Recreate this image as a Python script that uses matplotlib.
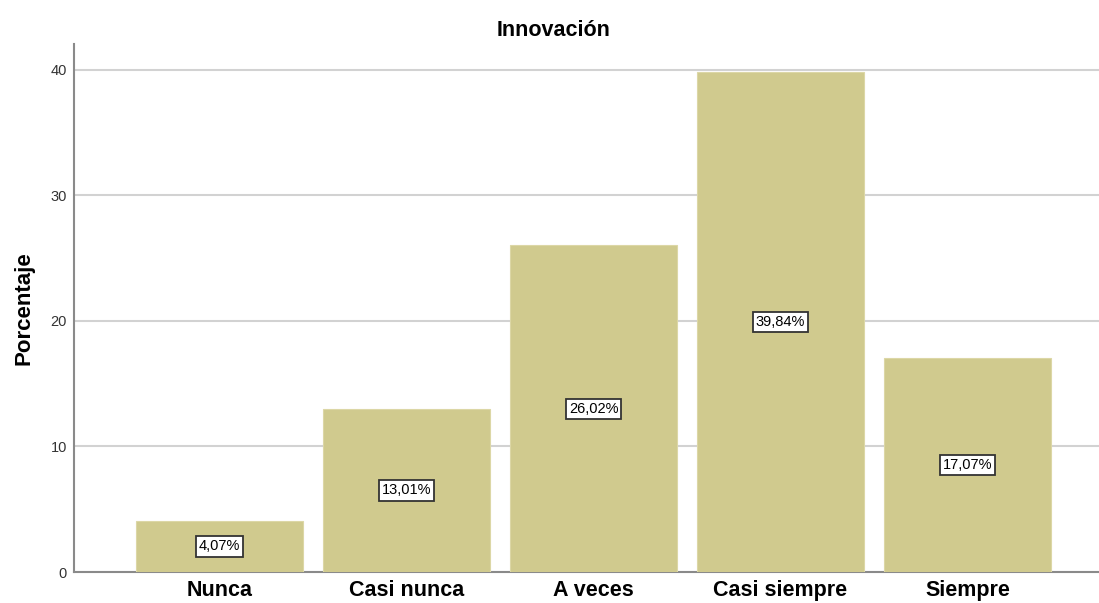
import numpy as np
import matplotlib.pyplot as plt

categorias = ['Nunca', 'Casi nunca', 'A veces', 'Casi siempre', 'Siempre']
porcentajes = [4.07, 13.01, 26.02, 39.84, 17.07]
ticks_y = [0, 10, 20, 30, 40]

plt.rcParams['font.family'] = ['Liberation Sans', 'DejaVu Sans']

fig = plt.figure(figsize=(10.99, 6.03), dpi=100)
ax = fig.add_axes([74 / 1099, 1 - 572 / 603, 1 - 74 / 1099, (572 - 44) / 603])

x = np.arange(len(categorias))
ax.bar(x, porcentajes, width=0.893, color='#d0ca8e', edgecolor='#dcd7a6',
       linewidth=0.8, zorder=3)

for xi, v in zip(x, porcentajes):
    etiqueta = f'{v:.2f}%'.replace('.', ',')
    ax.text(xi, v / 2, etiqueta, ha='center', va='center', fontsize=10.5,
            zorder=4,
            bbox=dict(boxstyle='square,pad=0.22', facecolor='white',
                      edgecolor='#333333', linewidth=1.3))

ax.set_xlim(-0.778, 4.703)
ax.set_ylim(0, 42.07)
ax.set_yticks(ticks_y)
ax.set_xticks(x)
ax.set_xticklabels(categorias, fontsize=15.5, fontweight='bold')
ax.tick_params(axis='y', length=0, pad=5, labelsize=10.5, labelcolor='#333333')
ax.tick_params(axis='x', length=0, pad=6)

ax.grid(axis='y', color='#d2d2d2', linewidth=1.5, zorder=0)
ax.set_axisbelow(True)

for lado in ['top', 'right']:
    ax.spines[lado].set_visible(False)
for lado in ['left', 'bottom']:
    ax.spines[lado].set_color('#8a8a8a')
    ax.spines[lado].set_linewidth(1.5)

ax.set_ylabel('Porcentaje', fontsize=16, fontweight='bold', labelpad=12)
ax.set_title('Innovación', fontsize=15.5, fontweight='bold', pad=6, x=0.468)

fig.savefig('out.png', dpi=100)
